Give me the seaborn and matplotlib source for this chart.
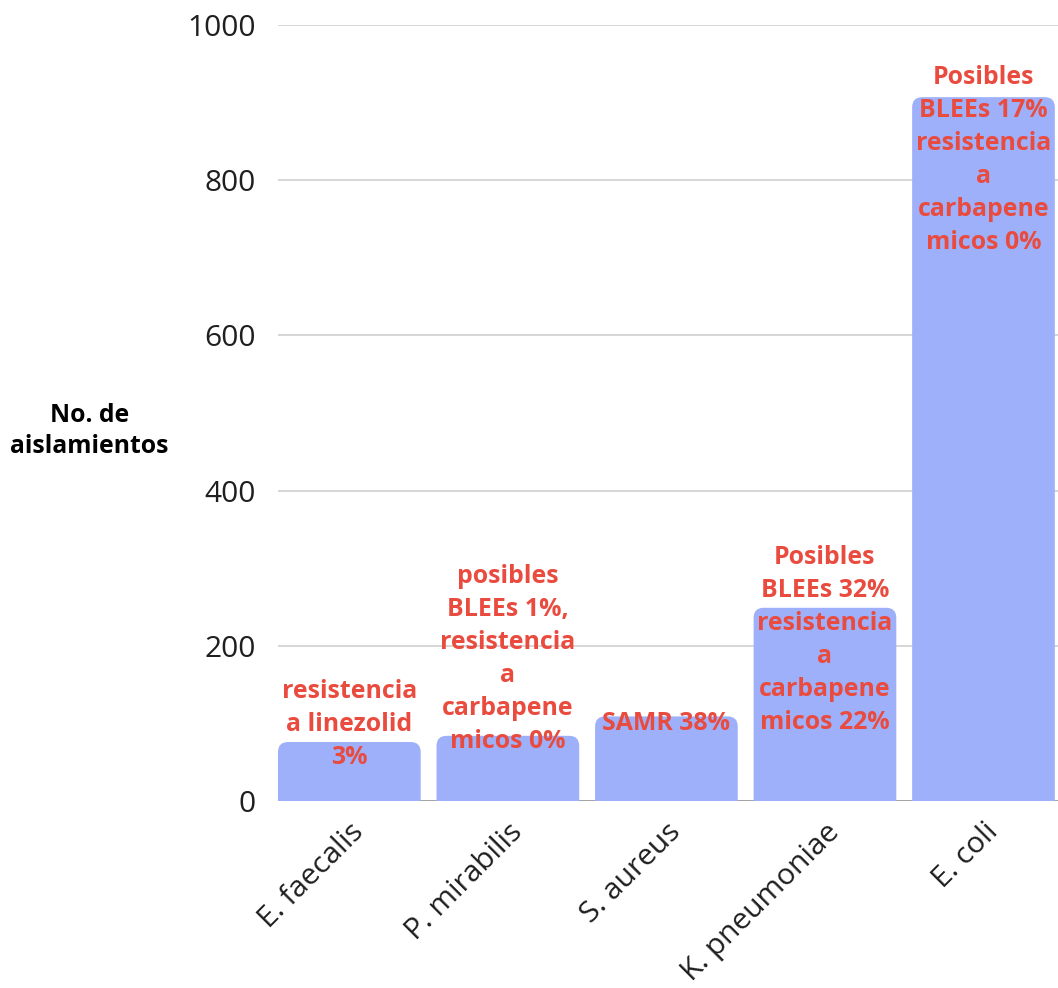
import matplotlib
matplotlib.use("Agg")
import matplotlib.pyplot as plt
import seaborn as sns
import pandas as pd
from matplotlib.patches import FancyBboxPatch

# Aislamientos por microorganismo
organismos = ["E. faecalis", "P. mirabilis", "S. aureus", "K. pneumoniae", "E. coli"]
aislamientos = [76, 84, 109, 249, 907]
etiquetas = [
    "resistencia\na linezolid\n3%",
    "posibles\nBLEEs 1%,\nresistencia\na\ncarbapene\nmicos 0%",
    "SAMR 38%",
    "Posibles\nBLEEs 32%\nresistencia\na\ncarbapene\nmicos 22%",
    "Posibles\nBLEEs 17%\nresistencia\na\ncarbapene\nmicos 0%",
]
y_ticks = [0, 200, 400, 600, 800, 1000]

sns.set_theme(style="white")
plt.rcParams["font.family"] = ["Open Sans", "DejaVu Sans"]

BAR = "#9DB0F9"
RED = "#EA4B3F"
INK = "#1F1F1F"

df = pd.DataFrame({"organismo": organismos, "n": aislamientos})

fig = plt.figure(figsize=(10.58, 9.88), dpi=100)
ax = fig.add_axes([278 / 1058, 187 / 988, 780 / 1058, 776 / 988])

sns.barplot(data=df, x="organismo", y="n", color=BAR, width=0.9,
            saturation=1, ax=ax, zorder=2)
ax.set_xlim(-0.45, 4.47)
ax.set_ylim(0, 1000)

# Rounded tops: replace each bar with a rounded box extended below the baseline
fig.canvas.draw()
px_per_x = ax.transData.transform((1, 0))[0] - ax.transData.transform((0, 0))[0]
px_per_y = ax.transData.transform((0, 1))[1] - ax.transData.transform((0, 0))[1]
radius_px = 10
rx = radius_px / px_per_x
ry = radius_px / px_per_y
for p in list(ax.patches):
    x0, w, h = p.get_x(), p.get_width(), p.get_height()
    box = FancyBboxPatch((x0, -3 * ry), w, h + 3 * ry,
                         boxstyle=f"round,pad=0,rounding_size={rx}",
                         mutation_aspect=ry / rx,
                         facecolor=BAR, edgecolor="none", zorder=2)
    p.remove()
    ax.add_patch(box)

# Value annotations (vertical offset of each text block from the bar top, in px)
offsets_px = [18, 77, -7, -32, -63]
for i, (v, txt, off) in enumerate(zip(aislamientos, etiquetas, offsets_px)):
    ax.annotate(txt, xy=(i, v), xytext=(0, off * 0.72), textcoords="offset points",
                ha="center", va="center", multialignment="center",
                color=RED, fontsize=17.9, fontweight="bold", linespacing=1.42,
                zorder=4)

ax.set_yticks(y_ticks)
ax.set_yticklabels([str(t) for t in y_ticks], fontsize=21.5, color=INK)
ax.tick_params(axis="y", length=0, pad=16)
ax.yaxis.grid(True, color="#D0D0D0", linewidth=1.2, zorder=0)
ax.set_axisbelow(True)
ax.axhline(0, color="#9E9E9E", linewidth=2, zorder=1)

ax.set_xticks(range(len(organismos)))
ax.set_xticklabels(organismos, fontsize=21.5, rotation=45, ha="right",
                   rotation_mode="anchor", color=INK)
ax.tick_params(axis="x", length=0, pad=12)

for s in ax.spines.values():
    s.set_visible(False)

ax.set_xlabel("")
ax.set_ylabel("No. de\naislamientos", rotation=0, fontsize=17.8, fontweight="bold",
              color="black", ha="center", va="center", labelpad=0,
              linespacing=1.35)
ax.yaxis.set_label_coords(-0.242, 0.477)

fig.savefig("out.png", dpi=100)
